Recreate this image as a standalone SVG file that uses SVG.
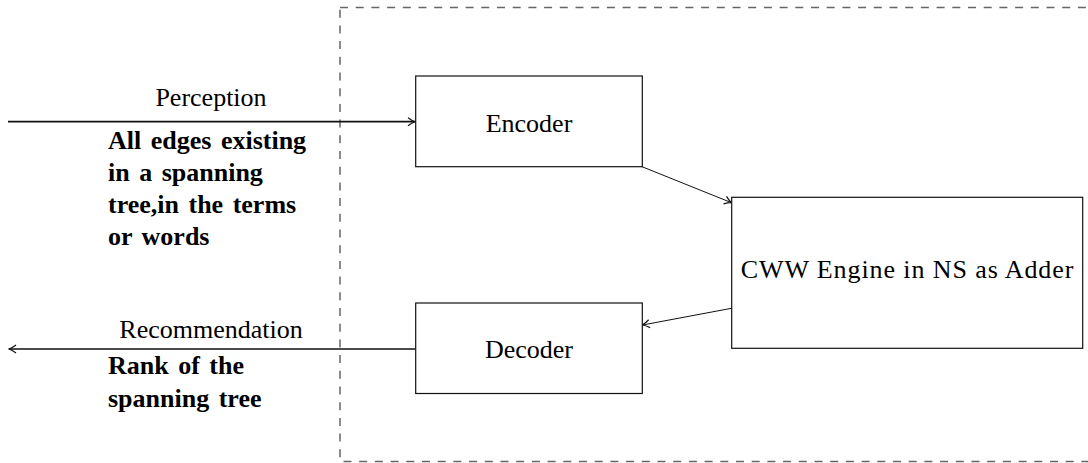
<svg xmlns="http://www.w3.org/2000/svg" width="1088" height="463" viewBox="0 0 1088 463">
<style>
.box{fill:#fff;stroke:#111;stroke-width:1.2}
.t{font-family:"Liberation Serif",serif;font-size:26px;fill:#000}
.b{font-family:"Liberation Serif",serif;font-size:26px;font-weight:bold;fill:#000;word-spacing:3px}
.main{stroke:#111;stroke-width:1.7;fill:none}
.thin{stroke:#111;stroke-width:1;fill:none}
</style>
<defs>
<marker id="ah" viewBox="0 0 10 10" refX="9" refY="5" markerWidth="10" markerHeight="10" markerUnits="userSpaceOnUse" orient="auto">
<path d="M2,1 Q6,4 9,5 Q6,6 2,9" fill="none" stroke="#111" stroke-width="1.2"/>
</marker>
</defs>
<rect id="frame" x="340" y="7.5" width="760" height="454" fill="none" stroke="#666" stroke-width="1.5" stroke-dasharray="8 7.7"/>
<g id="connectors">
<line class="main" x1="8" y1="121.7" x2="415" y2="121.7" marker-end="url(#ah)"/>
<line class="main" x1="415" y1="349" x2="9" y2="349" marker-end="url(#ah)"/>
<line class="thin" x1="642" y1="166.7" x2="731.5" y2="202.7" marker-end="url(#ah)"/>
<line class="thin" x1="731.5" y1="308.3" x2="642.5" y2="325" marker-end="url(#ah)"/>
</g>
<g id="encoder">
<rect class="box" x="415.7" y="76" width="226.6" height="90.7"/>
<text class="t" x="529" y="131.5" text-anchor="middle">Encoder</text>
</g>
<g id="decoder">
<rect class="box" x="415.7" y="303" width="226.6" height="90.5"/>
<text class="t" x="529" y="358.3" text-anchor="middle">Decoder</text>
</g>
<g id="engine">
<rect class="box" x="731.7" y="197.3" width="351" height="151"/>
<text class="t" x="740.7" y="278" textLength="332.7" lengthAdjust="spacing">CWW Engine in NS as Adder</text>
</g>
<g id="labels">
<text class="t" x="211" y="106" text-anchor="middle">Perception</text>
<text class="b" x="108" y="149">All edges existing</text>
<text class="b" x="108" y="181">in a spanning</text>
<text class="b" x="108" y="213">tree,in the terms</text>
<text class="b" x="108" y="245">or words</text>
<text class="t" x="211" y="337.5" text-anchor="middle">Recommendation</text>
<text class="b" x="108" y="374">Rank of the</text>
<text class="b" x="108" y="406.5">spanning tree</text>
</g>
</svg>
